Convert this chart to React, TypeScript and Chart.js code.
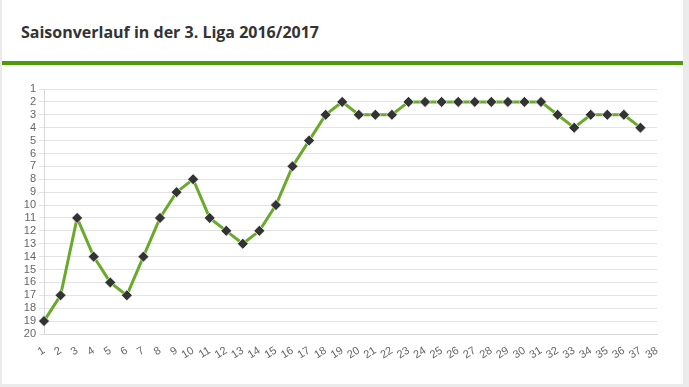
import React, { useEffect, useRef } from "react";
import { Chart, registerables } from "chart.js";

Chart.register(...registerables);

const matchdays: string[] = Array.from({ length: 38 }, (_, i) => String(i + 1));
const positions: (number | null)[] = [
  19, 17, 11, 14, 16, 17, 14, 11, 9, 8,
  11, 12, 13, 12, 10, 7, 5, 3, 2, 3,
  3, 3, 2, 2, 2, 2, 2, 2, 2, 2,
  2, 3, 4, 3, 3, 3, 4, null,
];
const titleText = "Saisonverlauf in der 3. Liga 2016/2017";

export default function App() {
  const canvasRef = useRef<HTMLCanvasElement | null>(null);

  useEffect(() => {
    document.body.style.margin = "0";
    const ctx = canvasRef.current;
    if (!ctx) return;
    const chart = new Chart(ctx, {
      type: "line",
      data: {
        labels: matchdays,
        datasets: [
          {
            data: positions,
            borderColor: "#6aaa2a",
            borderWidth: 3,
            pointStyle: "rectRot",
            pointRadius: 5.5,
            pointBackgroundColor: "#333333",
            pointBorderColor: "rgba(255,255,255,0.7)",
            pointBorderWidth: 1,
            tension: 0,
            fill: false,
          },
        ],
      },
      options: {
        animation: false,
        responsive: false,
        maintainAspectRatio: false,
        layout: { padding: { left: 0, top: 89, right: 32, bottom: 0 } },
        plugins: { legend: { display: false }, tooltip: { enabled: false }, title: { display: false } },
        scales: {
          x: {
            offset: false,
            grid: { display: false },
            border: { display: true, color: "#d8d8d8" },
            ticks: {
              autoSkip: false,
              minRotation: 32,
              maxRotation: 32,
              color: "#666",
              font: { family: "Arial, 'Liberation Sans'", size: 11 },
              padding: 2,
            },
            afterFit: (s: any) => {
              s.height = 53;
            },
          },
          y: {
            reverse: true,
            min: 1,
            max: 20,
            grid: { color: "#e3e3e3", tickLength: 5, lineWidth: 1 },
            border: { display: true, color: "#d8d8d8" },
            ticks: {
              stepSize: 1,
              autoSkip: false,
              color: "#666",
              font: { family: "Arial, 'Liberation Sans'", size: 11 },
              padding: 3,
            },
            afterFit: (s: any) => {
              s.width = 44;
            },
          },
        },
      },
    });
    return () => chart.destroy();
  }, []);

  return (
    <div style={{ position: "relative", width: 689, height: 387, background: "#ebebeb", overflow: "hidden" }}>
      <div style={{ position: "absolute", left: 2, top: 0, width: 681, height: 384, background: "#ffffff" }} />
      <div
        style={{
          position: "absolute",
          left: 21,
          top: 20,
          fontFamily: "'Open Sans', sans-serif",
          fontWeight: 700,
          fontSize: 16,
          color: "#333333",
          whiteSpace: "nowrap",
          lineHeight: "24px",
        }}
      >
        {titleText}
      </div>
      <div style={{ position: "absolute", left: 2, top: 61, width: 681, height: 4, background: "#4e9a08" }} />
      <canvas ref={canvasRef} width={689} height={387} style={{ position: "absolute", left: 0, top: 0 }} />
    </div>
  );
}
